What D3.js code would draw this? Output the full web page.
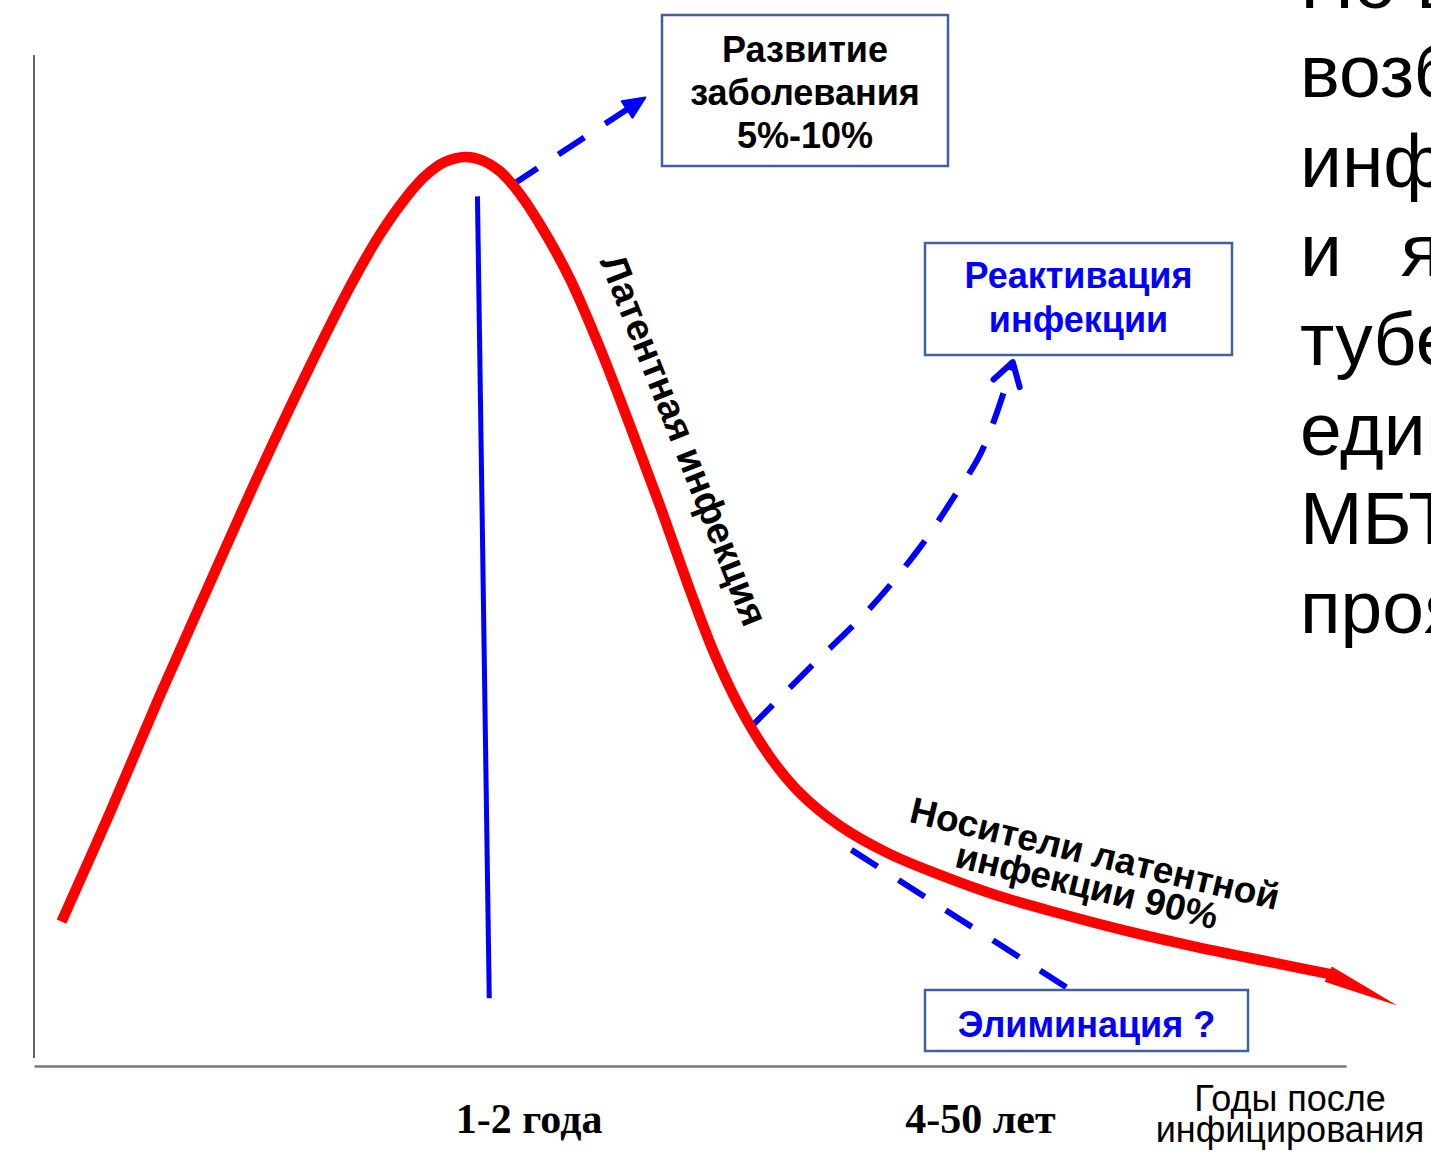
<!DOCTYPE html>
<html lang="ru">
<head>
<meta charset="utf-8">
<title>Латентная туберкулёзная инфекция</title>
<script src="https://cdn.jsdelivr.net/npm/d3@7"></script>
<style>
  html, body { margin: 0; padding: 0; background: #fff; overflow: hidden; }
  svg { display: block; }
</style>
</head>
<body>
<div id="chart"></div>
<script>
// course of infection, time and level in % of the axis
const curveTime = [2.1, 5.8, 9.6, 13.4, 17.2, 21.0, 24.1, 26.4, 28.3, 29.8, 31.3, 32.9, 34.1, 35.5, 37.0, 38.9, 40.9, 43.1, 45.4, 47.7, 50.0, 51.9, 53.8, 56.1, 58.4, 61.4, 65.2, 69.1, 73.6, 78.2, 83.5, 88.9, 94.2, 98.8];
const curveLevel = [14.3, 25.1, 36.7, 47.8, 58.8, 69.2, 77.2, 82.4, 85.9, 88.1, 89.5, 90.0, 89.7, 88.6, 86.4, 82.6, 77.8, 71.2, 63.5, 55.5, 47.1, 40.7, 35.5, 30.6, 27.0, 23.8, 21.0, 18.9, 16.8, 15.1, 13.3, 11.7, 10.3, 9.1];
const curveTip = [103.9, 6.0];

const onsetTime = [33.8, 34.7];
const onsetLevel = [86.1, 6.7];

const diseaseTime = [36.4, 46.6];
const diseaseLevel = [87.2, 95.9];

const reactivationTime = [54.6, 59.1, 63.7, 67.5, 70.2, 72.1, 73.2, 74.2, 74.6];
const reactivationLevel = [33.5, 39.4, 45.3, 51.3, 56.5, 60.5, 64.0, 67.9, 69.7];

const eliminationTime = [62.3, 78.8];
const eliminationLevel = [21.4, 7.7];

const tickValues = [37.7, 72.1];
const tickLabels = ["1-2 года", "4-50 лет"];
const axisTitle = ["Годы после", "инфицирования"];

const diseaseText = ["Развитие", "заболевания", "5%-10%"];
const reactivationText = ["Реактивация", "инфекции"];
const eliminationText = ["Элиминация ?"];
const latentText = "Латентная инфекция";
const carrierText = ["Носители латентной", "инфекции 90%"];

const slideLines = ["Но в организме", "возбудитель", "инфекции", "и являются", "туберкулёза", "единичные", "МБТ и", "проявляются"];

const width = 1431;
const height = 1158;
const sans = '"Liberation Sans", Arial, sans-serif';
const serif = '"Liberation Serif", "Times New Roman", serif';
const red = "#ff0000";
const blue = "#0000ff";
const boxStroke = "#41609e";

const x = d3.scaleLinear().domain([0, 100]).range([34, 1346]);
const y = d3.scaleLinear().domain([0, 100]).range([1066, 56]);

const svg = d3.select("#chart")
  .append("svg")
  .attr("width", width)
  .attr("height", height)
  .attr("viewBox", `0 0 ${width} ${height}`);

svg.append("rect").attr("width", width).attr("height", height).attr("fill", "#fff");

const zip = (xs, ys) => xs.map((t, i) => [x(t), y(ys[i])]);

// axes
svg.append("line")
  .attr("x1", x(0)).attr("x2", x(0))
  .attr("y1", y(0.8)).attr("y2", y(100.1))
  .attr("stroke", "#666").attr("stroke-width", 2);

const xAxis = svg.append("g")
  .attr("transform", `translate(0, ${y(0)})`)
  .call(d3.axisBottom(x)
    .tickValues(tickValues)
    .tickFormat((d, i) => tickLabels[i])
    .tickSize(0)
    .tickSizeOuter(0));

xAxis.select(".domain").attr("stroke", "#777").attr("stroke-width", 2.5);
xAxis.selectAll("text")
  .attr("y", 67)
  .attr("dy", null)
  .attr("font-family", serif)
  .attr("font-weight", "bold")
  .attr("font-size", 42)
  .attr("fill", "#000");

svg.append("g")
  .selectAll("text")
  .data(axisTitle)
  .join("text")
  .attr("x", 1290)
  .attr("y", (d, i) => 1111 + i * 31)
  .attr("text-anchor", "middle")
  .attr("font-family", sans)
  .attr("font-size", 36)
  .text((d) => d);

// slide text on the right, cut by the page edge
svg.append("g")
  .selectAll("text")
  .data(slideLines)
  .join("text")
  .attr("x", 1300)
  .attr("y", (d, i) => 8 + i * 89.3)
  .attr("font-family", sans)
  .attr("font-size", 75)
  .attr("word-spacing", (d, i) => (i === 3 ? 38 : 0))
  .text((d) => d);

// blue lines
const line = d3.line();
const smooth = d3.line().curve(d3.curveCatmullRom.alpha(0.5));

svg.append("path")
  .attr("d", line(zip(onsetTime, onsetLevel)))
  .attr("fill", "none").attr("stroke", blue).attr("stroke-width", 5);

function arrowHead(pts, len, spread) {
  const [tx, ty] = pts[pts.length - 1];
  const [fx, fy] = pts[pts.length - 2];
  const a = Math.atan2(ty - fy, tx - fx);
  const p1 = [tx - len * Math.cos(a - spread), ty - len * Math.sin(a - spread)];
  const p2 = [tx - len * Math.cos(a + spread), ty - len * Math.sin(a + spread)];
  return { tip: [tx, ty], p1, p2 };
}

const diseasePts = zip(diseaseTime, diseaseLevel);
svg.append("path")
  .attr("d", line(diseasePts))
  .attr("fill", "none").attr("stroke", blue).attr("stroke-width", 6)
  .attr("stroke-dasharray", "31,25");
const h1 = arrowHead(diseasePts, 24, 0.42);
svg.append("path")
  .attr("d", `M${h1.p1}L${h1.tip}L${h1.p2}Z`)
  .attr("fill", blue).attr("stroke", blue).attr("stroke-width", 2).attr("stroke-linejoin", "round");

const reactPts = zip(reactivationTime, reactivationLevel);
svg.append("path")
  .attr("d", smooth(reactPts))
  .attr("fill", "none").attr("stroke", blue).attr("stroke-width", 6)
  .attr("stroke-dasharray", "32,24");
const h2 = arrowHead(reactPts, 26, 0.55);
svg.append("path")
  .attr("d", `M${h2.p1}L${h2.tip}L${h2.p2}`)
  .attr("fill", "none").attr("stroke", blue).attr("stroke-width", 6)
  .attr("stroke-linecap", "round").attr("stroke-linejoin", "round");

svg.append("path")
  .attr("d", line(zip(eliminationTime, eliminationLevel)))
  .attr("fill", "none").attr("stroke", blue).attr("stroke-width", 6)
  .attr("stroke-dasharray", "31,25");

// red curve with its pointed end
const curvePts = zip(curveTime, curveLevel);
svg.append("path")
  .attr("d", smooth(curvePts))
  .attr("fill", "none").attr("stroke", red).attr("stroke-width", 10.5);

const last = curvePts[curvePts.length - 1];
const tip = [x(curveTip[0]), y(curveTip[1])];
const ang = Math.atan2(tip[1] - last[1], tip[0] - last[0]);
const half = 8.5;
const nx = -Math.sin(ang) * half;
const ny = Math.cos(ang) * half;
svg.append("path")
  .attr("d", `M${last[0] - 2 + nx},${last[1] + ny}L${last[0] - 2 - nx},${last[1] - ny}L${tip}Z`)
  .attr("fill", red);

// boxes
function box(rect, lines, color, baseline, step) {
  const g = svg.append("g");
  g.append("rect")
    .attr("x", rect[0]).attr("y", rect[1])
    .attr("width", rect[2]).attr("height", rect[3])
    .attr("fill", "#fff").attr("stroke", boxStroke).attr("stroke-width", 2.5);
  g.selectAll("text")
    .data(lines)
    .join("text")
    .attr("x", rect[0] + rect[2] / 2)
    .attr("y", (d, i) => baseline + i * step)
    .attr("text-anchor", "middle")
    .attr("font-family", sans)
    .attr("font-weight", "bold")
    .attr("font-size", 36)
    .attr("fill", color)
    .text((d) => d);
}

box([662, 15, 286, 151], diseaseText, "#000", 62, 43);
box([925, 243, 307, 112], reactivationText, blue, 288, 44);
box([925, 990, 323, 61], eliminationText, blue, 1037, 0);

// labels along the curve
svg.append("text")
  .attr("transform", "translate(672, 445) rotate(68.5)")
  .attr("text-anchor", "middle")
  .attr("font-family", sans)
  .attr("font-weight", "bold")
  .attr("font-size", 38)
  .text(latentText);

svg.append("g")
  .selectAll("text")
  .data(carrierText)
  .join("text")
  .attr("transform", (d, i) => (i === 0 ? "translate(1092, 866) rotate(13.5)" : "translate(1084, 898) rotate(13.5)"))
  .attr("text-anchor", "middle")
  .attr("font-family", sans)
  .attr("font-weight", "bold")
  .attr("font-size", 37)
  .text((d) => d);
</script>
</body>
</html>
